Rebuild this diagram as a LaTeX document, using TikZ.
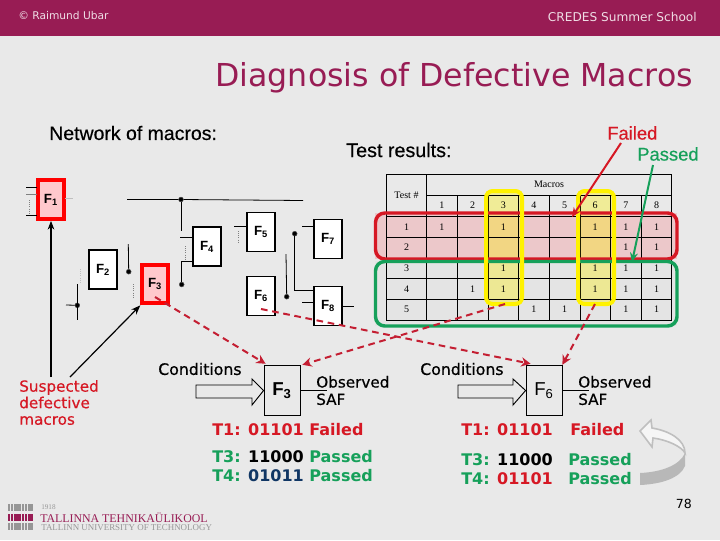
\documentclass[tikz,border=0pt]{standalone}
\usepackage{fontspec}
\usepackage{tikz}
\usetikzlibrary{arrows.meta,calc}
\setmainfont{DejaVu Sans}
\newfontfamily\arialfont{Liberation Sans}
\newfontfamily\timesfont{Liberation Serif}
\newfontfamily\heavyfont[FakeBold=0.5]{DejaVu Sans}
\newfontfamily\captionfont[FakeBold=0.4]{Liberation Sans}
\definecolor{SlideBg}{RGB}{233,233,233}
\definecolor{HeadBar}{RGB}{152,28,84}
\definecolor{FailRed}{RGB}{214,24,36}
\definecolor{PassGreen}{RGB}{22,160,90}
\definecolor{DashRed}{RGB}{196,30,50}
\definecolor{NavyText}{RGB}{16,54,100}
\definecolor{SoftRed}{RGB}{255,200,204}
\definecolor{RowRed}{RGB}{236,200,202}
\definecolor{RowGray}{RGB}{228,228,228}
\definecolor{LogoGray}{RGB}{150,150,150}
\tikzset{
  macrobox/.style={draw,line width=1.2pt,fill=white,minimum width=21pt,minimum height=29pt,inner sep=0pt,font=\arialfont\bfseries\fontsize{10}{12}\selectfont},
  badbox/.style={macrobox,draw=red,line width=3pt,fill=SoftRed,minimum width=19pt,minimum height=29pt},
  bigbox/.style={draw,line width=.6pt,minimum width=27pt,minimum height=38pt,inner sep=0pt},
  wire/.style={line width=.6pt},
  vdots/.style={densely dotted,line width=.6pt,gray},
  portdot/.style={circle,fill=black,draw=black!70,minimum size=3.6pt,inner sep=0pt},
  cellnum/.style={font=\timesfont\fontsize{7.5}{9}\selectfont},
  slidetext/.style={anchor=west,inner sep=0pt,font=\heavyfont\fontsize{11.8}{14}\selectfont},
  resulttext/.style={anchor=west,inner sep=0pt,font=\bfseries\fontsize{12}{14}\selectfont},
  suspectdash/.style={DashRed,line width=1.5pt,dash pattern=on 5pt off 3.5pt,-{Stealth[length=7pt,width=7pt]}},
  tworow/.style={line width=2.6pt,rounded corners=7pt},
  yellowcol/.style={yellow,line width=3pt,rounded corners=5pt},
  inputarrow/.style={draw,line width=.7pt,fill=SlideBg}
}
\begin{document}
\begin{tikzpicture}[x=0.75pt,y=-0.75pt,>=Stealth]
  \useasboundingbox (0,0) rectangle (720,540);
  \fill[SlideBg] (0,0) rectangle (720,540);
  \fill[HeadBar] (0,0) rectangle (720,36);
  % header
  \node[anchor=west,inner sep=0pt,white!85!HeadBar,font=\fontsize{8}{9}\selectfont] (author) at (18,16) {© Raimund Ubar};
  \node[anchor=east,inner sep=0pt,white!85!HeadBar,font=\fontsize{9.1}{10}\selectfont] (school) at (697,17) {CREDES Summer School};
  \node[anchor=east,inner sep=0pt,HeadBar,font=\fontsize{23.7}{28}\selectfont] (title) at (693,78) {Diagnosis of Defective Macros};
  % captions
  \node[anchor=west,inner sep=0pt,font=\captionfont\fontsize{14.6}{17}\selectfont] (netcap) at (49,133) {Network of macros:};
  \node[anchor=west,inner sep=0pt,font=\captionfont\fontsize{14.8}{17}\selectfont] (testcap) at (346,150) {Test results:};
  \node[anchor=west,inner sep=0pt,FailRed,font=\captionfont\fontsize{13.8}{16}\selectfont] (failed) at (607,133) {Failed};
  \node[anchor=west,inner sep=0pt,PassGreen,font=\captionfont\fontsize{13.8}{16}\selectfont] (passed) at (637,154) {Passed};
  % macro network
  \node[badbox] (F1) at (51,199.5) {F\textsubscript{1}};
  \node[macrobox] (F2) at (103,269.5) {F\textsubscript{2}};
  \node[badbox] (F3) at (155,284) {F\textsubscript{3}};
  \node[macrobox] (F4) at (207,246.5) {F\textsubscript{4}};
  \node[macrobox] (F5) at (261,232) {F\textsubscript{5}};
  \node[macrobox] (F6) at (261,296) {F\textsubscript{6}};
  \node[macrobox] (F7) at (328,239) {F\textsubscript{7}};
  \node[macrobox] (F8) at (328,306) {F\textsubscript{8}};
  \node[portdot] (d1) at (181,199.5) {};
  \node[portdot] (d2) at (128.7,271.7) {};
  \node[portdot] (d3) at (181.7,284.5) {};
  \node[portdot] (d4) at (294.7,233.7) {};
  \node[portdot] (d5) at (286.7,296.7) {};
  \node[portdot] (d6) at (77.3,305.3) {};
  \draw[wire] (26,187) -- (37,187) (26,215) -- (37,215);
  \draw[wire,gray] (26,194) -- (37,194);
  \draw[wire,black!25] (65,198) -- (73,198);
  \draw[vdots] (29,200) -- (29,213);
  \draw[wire] (127,199.5) -- (d1) -- (303,200.5);
  \draw[wire] (d1) -- (181,231);
  \draw[wire] (180,237) -- (193,237);
  \draw[vdots] (185,246) -- (185,259);
  \draw[wire] (193,261) -- (181.7,261) -- (d3);
  \draw[wire] (234,226) -- (247,226);
  \draw[vdots] (238,231) -- (238,243);
  \draw[wire] (302,226) -- (314,226);
  \draw[wire] (d4) -- (294.7,290) -- (314,290);
  \draw[wire] (286,254) -- (d5);
  \draw[wire] (302,302) -- (314,302);
  \draw[wire] (342,306) -- (354,306);
  \draw[wire] (128.3,244) -- (d2);
  \draw[vdots] (133,284) -- (133,297);
  \draw[vdots,black!25] (80,269) -- (80,282);
  \draw[wire] (77,284) -- (77,320);
  \draw[wire] (66,305) -- (d6);
  % test table
  \fill[RowGray] (375,261) rectangle (677,326);
  \fill[RowRed] (375,213) rectangle (677,259);
  \foreach \xa/\xb in {486/522,578/614}
    \fill[yellow,opacity=.35] (\xa,191) rectangle (\xb,304);
  \draw[line width=.7pt] (386.3,174.3) rectangle (671.7,320.3);
  \draw[line width=.7pt] (426.7,174.3) -- (426.7,320.3) (426.7,195.3) -- (671.7,195.3);
  \foreach \x in {457.3,488,518.7,549.3,580,610.7,641.3}
    \draw[line width=.7pt] (\x,195.3) -- (\x,320.3);
  \foreach \y in {216,237.3,258,278.7,299.3}
    \draw[line width=.7pt] (386.3,\y) -- (671.7,\y);
  \node[cellnum] (macroshead) at (549,184.5) {Macros};
  \node[cellnum] (testhead) at (406.5,195.5) {Test \#};
  \foreach \c in {1,...,8}
    \node[cellnum] (col\c) at ({411.3+30.65*\c},205.5) {\c};
  \foreach \r in {1,...,5}
    \node[cellnum] (row\r) at (406.5,{206+20.7*\r}) {\r};
  \foreach \c/\r in {1/1,3/1,6/1,7/1,8/1,7/2,8/2,3/3,6/3,7/3,8/3,2/4,3/4,6/4,7/4,8/4,4/5,5/5,7/5,8/5}
    \node[cellnum] (cell\c\r) at ({411.3+30.65*\c},{206+20.7*\r}) {1};
  \draw[tworow,FailRed] (375.5,213) rectangle (677,259);
  \draw[tworow,PassGreen] (375.5,261.5) rectangle (677,326);
  \foreach \xa/\xb in {486/522,578/614}
    \draw[yellowcol] (\xa,191) rectangle (\xb,304);
  \coordinate (redtip) at (572,217);
  \coordinate (greentip) at (632,262);
  \draw[FailRed,line width=1.5pt,-{Stealth[length=7pt,width=6pt]}] (621,143) -- (redtip);
  \draw[PassGreen,line width=1.5pt,-{Stealth[length=7pt,width=6pt]}] (653,165) -- (greentip);
  % lower boxes
  \node[bigbox,font=\arialfont\bfseries\fontsize{14}{16}\selectfont] (lowF3) at (282,390.5) {F\textsubscript{3}};
  \node[bigbox,font=\arialfont\fontsize{14}{16}\selectfont] (lowF6) at (544,390.5) {F\textsubscript{6}};
  \draw[inputarrow] (196,385) -- (252,385) -- (252,379) -- (lowF3.west) -- (252,405) -- (252,398) -- (196,398) -- cycle;
  \draw[inputarrow] (458,385) -- (513,385) -- (513,379) -- (lowF6.west) -- (513,405) -- (513,398) -- (458,398) -- cycle;
  \coordinate (outF3) at (327,390.5);
  \coordinate (outF6) at (589,390.5);
  \draw[wire] (lowF3.east) -- (outF3);
  \draw[wire] (lowF6.east) -- (outF6);
  % suspect links
  \coordinate (colthree) at (505,304);
  \coordinate (colsix) at (595,304);
  \draw[suspectdash] (155,297) -- ($(lowF3.north west)+(2,-1)$);
  \draw[suspectdash] (261,309) -- ($(lowF6.north west)+(5,-1)$);
  \draw[suspectdash] (colthree) -- ($(lowF3.north east)+(2,0)$);
  \draw[suspectdash] (colsix) -- (lowF6.north east);
  \draw[line width=.8pt,->] (51,377) -- (F1.south);
  \draw[line width=.9pt,->] (70,377) -- (F3.south west);
  % lower texts
  \node[slidetext,FailRed,align=left,font=\heavyfont\fontsize{11.4}{12.4}\selectfont] (suspects) at (19,402.5) {Suspected\\defective\\macros};
  \node[slidetext] (condA) at (158,369) {Conditions};
  \node[slidetext] (condB) at (420,369) {Conditions};
  \node[slidetext,align=left,font=\heavyfont\fontsize{11.4}{13}\selectfont] (obsA) at (316,390.5) {Observed\\SAF};
  \node[slidetext,align=left,font=\heavyfont\fontsize{11.4}{13}\selectfont] (obsB) at (578,390.5) {Observed\\SAF};
  \node[resulttext,FailRed] (tA1) at (212,430) {T1: 01101 Failed};
  \node[resulttext,PassGreen] (tA3) at (212,457) {T3: \textcolor{black}{11000} Passed};
  \node[resulttext,PassGreen] (tA4) at (212,476) {T4: \textcolor{NavyText}{01011} Passed};
  \node[resulttext,FailRed] (tB1) at (461,430) {T1: 01101};
  \node[resulttext,PassGreen] (tB3) at (461,460) {T3: \textcolor{black}{11000}};
  \node[resulttext,PassGreen] (tB4) at (461,479) {T4: \textcolor{FailRed}{01101}};
  \node[resulttext,FailRed] (resB1) at (570,430) {Failed};
  \node[resulttext,PassGreen] (resB3) at (568,460) {Passed};
  \node[resulttext,PassGreen] (resB4) at (568,479) {Passed};
  % order arrow
  \fill[black!28] (640,473) .. controls (662,472) and (680,465) .. (685,453) -- (685,466) .. controls (680,478) and (662,484) .. (640,485) -- cycle;
  \draw[black!25,line width=1.2pt,fill=black!4] (685,453) .. controls (685,440) and (670,431) .. (652,428) -- (651,420) -- (640,431) -- (652,447) -- (653,438) .. controls (668,440) and (682,447) .. (685,453) -- cycle;
  \node[anchor=east,inner sep=0pt,font=\fontsize{9.4}{11}\selectfont] (pagenum) at (692,504) {78};
  % university logo
  \foreach \x in {8,10.8,13.6,16.4,19.2,22,24.8,27.6,30.4}{
    \fill[LogoGray] (\x,504) rectangle ++(2.2,7);
    \fill[HeadBar] (\x,513.5) rectangle ++(2.2,7);
    \fill[LogoGray] (\x,523) rectangle ++(2.2,7);
  }
  \node[anchor=west,inner sep=0pt,LogoGray,font=\timesfont\fontsize{5.4}{6}\selectfont] (logoyear) at (41,507) {1918};
  \node[anchor=west,inner sep=0pt,HeadBar,font=\timesfont\fontsize{8.9}{10}\selectfont] (logoee) at (40,517.5) {TALLINNA TEHNIKAÜLIKOOL};
  \node[anchor=west,inner sep=0pt,LogoGray,font=\timesfont\fontsize{6.7}{8}\selectfont] (logoen) at (41,527.5) {TALLINN UNIVERSITY OF TECHNOLOGY};
\end{tikzpicture}
\end{document}
